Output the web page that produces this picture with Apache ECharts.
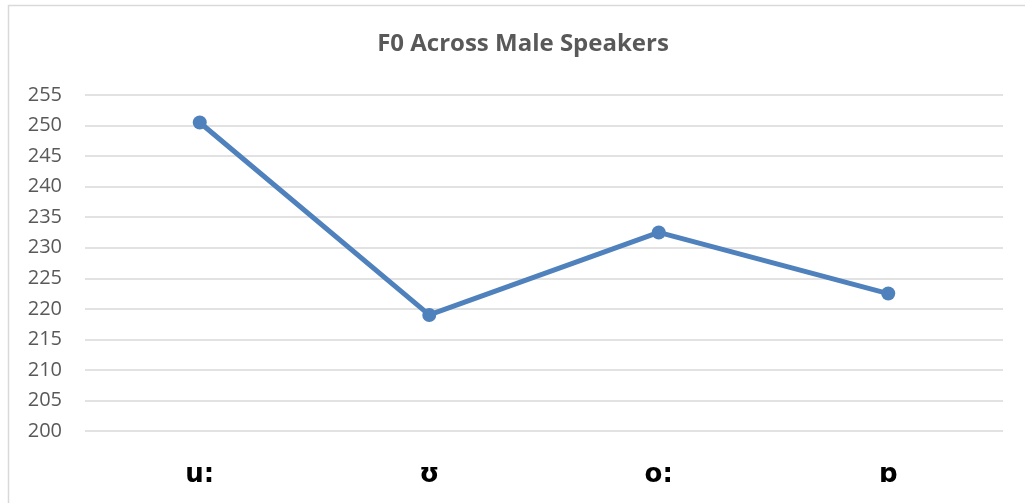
<!DOCTYPE html>
<html>
<head>
<meta charset="utf-8">
<script src="https://cdn.jsdelivr.net/npm/echarts@6/dist/echarts.min.js"></script>
<style>
  html, body { margin: 0; padding: 0; background: #fff; }
  #main { width: 1025px; height: 503px; }
</style>
</head>
<body>
<div id="main"></div>
<script>
// vowel categories and mean F0 (Hz)
const vowels = ["u:", "ʊ", "o:", "ɒ"];
const f0Values = [250.5, 219, 232.5, 222.5];
const yTicks = [200, 205, 210, 215, 220, 225, 230, 235, 240, 245, 250, 255];

let chart = echarts.init(document.getElementById("main"));
let option = {
  animation: false,
  backgroundColor: "#fff",
  // frame of the chart area
  graphic: [
    {
      type: "rect",
      shape: { x: 8.5, y: 5.5, width: 1100, height: 600 },
      style: { fill: "none", stroke: "#d9d9d9", lineWidth: 1.5 },
      silent: true,
    },
  ],
  title: {
    text: "F0 Across Male Speakers",
    left: 518,
    textAlign: "center",
    top: 27,
    textStyle: {
      fontFamily: "Open Sans",
      fontWeight: "bold",
      fontSize: 24,
      color: "#595959",
    },
  },
  grid: { left: 85, right: 22, top: 95, bottom: 72 },
  xAxis: {
    type: "category",
    data: vowels,
    boundaryGap: true,
    axisLine: { show: false },
    axisTick: { show: false },
    axisLabel: {
      margin: 31,
      fontFamily: "DejaVu Sans",
      fontWeight: "bold",
      fontSize: 26,
      color: "#000",
    },
  },
  yAxis: {
    type: "value",
    min: yTicks[0],
    max: yTicks[yTicks.length - 1],
    interval: 5,
    axisLine: { show: false },
    axisTick: { show: false },
    splitLine: { lineStyle: { color: "#d9d9d9", width: 1.5 } },
    axisLabel: {
      margin: 23,
      fontFamily: "Open Sans",
      fontSize: 20,
      color: "#595959",
    },
  },
  series: [
    {
      type: "line",
      data: f0Values,
      symbol: "circle",
      symbolSize: 14,
      color: "#4f81bd",
      lineStyle: { width: 5, color: "#4f81bd" },
      itemStyle: { color: "#4f81bd" },
    },
  ],
};
chart.setOption(option);
</script>
</body>
</html>
